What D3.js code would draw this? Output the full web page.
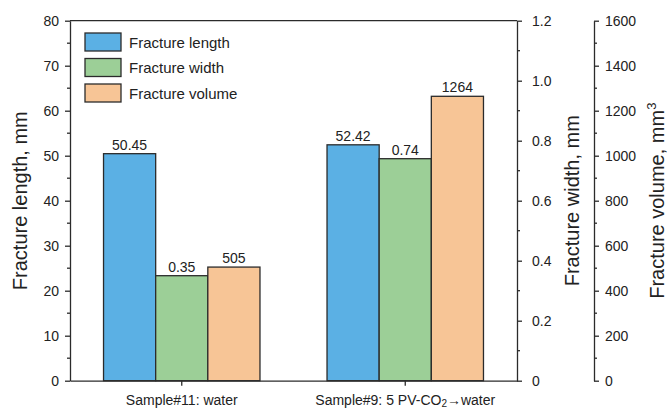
<!DOCTYPE html>
<html>
<head>
<meta charset="utf-8">
<script src="https://cdn.jsdelivr.net/npm/d3@7.9.0/dist/d3.min.js"></script>
<style>
  body { margin: 0; background: #fff; }
  svg { display: block; font-family: "Liberation Sans", Arial, sans-serif; }
  .axis text { fill: #222; font-size: 14px; }
  .axis path, .axis line { stroke: #2b2b2b; stroke-width: 1.3; }
</style>
</head>
<body>
<svg id="chart" width="667" height="408"></svg>
<script>
const categories = ["Sample#11: water", "Sample#9: 5 PV-CO2→water"];
const series = ["Fracture length", "Fracture width", "Fracture volume"];
const lengthValues = [50.45, 52.42];
const widthValues = [0.35, 0.74];
const volumeValues = [505, 1264];
const lengthLabels = ["50.45", "52.42"];
const widthLabels = ["0.35", "0.74"];
const volumeLabels = ["505", "1264"];
const lengthTicks = [0, 10, 20, 30, 40, 50, 60, 70, 80];
const widthTicks = [0, 0.2, 0.4, 0.6, 0.8, 1.0, 1.2];
const volumeTicks = [0, 200, 400, 600, 800, 1000, 1200, 1400, 1600];

const colors = ["#5bb0e4", "#9ccf97", "#f7c596"];
const plotL = 70, plotR = 517, plotT = 20.7, plotB = 380.7, volX = 594;

const svg = d3.select("#chart");

const x0 = d3.scaleBand().domain(categories).range([plotL, plotR])
  .paddingInner(0.3).paddingOuter(0.15);
const x1 = d3.scaleBand().domain(series).range([0, x0.bandwidth()]);

const yLen = d3.scaleLinear().domain([0, 80]).range([plotB, plotT]);
const yWid = d3.scaleLinear().domain([0, 1.2]).range([plotB, plotT]);
const yVol = d3.scaleLinear().domain([0, 1600]).range([plotB, plotT]);

const scales = [yLen, yWid, yVol];
const values = [lengthValues, widthValues, volumeValues];
const labels = [lengthLabels, widthLabels, volumeLabels];

// bars
const bars = [];
series.forEach((s, si) => {
  categories.forEach((c, ci) => {
    bars.push({ s, si, c, v: values[si][ci], lab: labels[si][ci] });
  });
});

svg.append("g").selectAll("rect").data(bars).join("rect")
  .attr("x", d => x0(d.c) + x1(d.s))
  .attr("y", d => scales[d.si](d.v))
  .attr("width", x1.bandwidth())
  .attr("height", d => plotB - scales[d.si](d.v))
  .attr("fill", d => colors[d.si])
  .attr("stroke", "#2b2b2b")
  .attr("stroke-width", 1.3);

svg.append("g").selectAll("text").data(bars).join("text")
  .attr("x", d => x0(d.c) + x1(d.s) + x1.bandwidth() / 2)
  .attr("y", d => scales[d.si](d.v) - 4)
  .attr("text-anchor", "middle")
  .attr("font-size", 14)
  .attr("fill", "#222")
  .text(d => d.lab);

// minor tick helper
function minor(g, scale, step, dir, len) {
  const [a, b] = scale.domain();
  const ticks = d3.range(a + step, b, step * 2).map(v => +v.toFixed(6));
  g.selectAll(".minor").data(ticks).join("line")
    .attr("class", "minor")
    .attr("x1", 0).attr("x2", dir * len)
    .attr("y1", d => scale(d)).attr("y2", d => scale(d))
    .attr("stroke", "#2b2b2b").attr("stroke-width", 1.2);
}

// left axis
const gl = svg.append("g").attr("class", "axis").attr("transform", `translate(${plotL},0)`)
  .call(d3.axisLeft(yLen).tickValues(lengthTicks).tickSize(5).tickSizeOuter(0).tickPadding(6));
minor(gl, yLen, 5, -1, 3);

// right width axis
const gw = svg.append("g").attr("class", "axis").attr("transform", `translate(${plotR},0)`)
  .call(d3.axisRight(yWid).tickValues(widthTicks).tickSize(5).tickSizeOuter(0).tickPadding(10)
    .tickFormat(d => d === 0 ? "0" : d3.format(".1f")(d)));
minor(gw, yWid, 0.1, 1, 3);

// volume axis
const gv = svg.append("g").attr("class", "axis").attr("transform", `translate(${volX},0)`)
  .call(d3.axisRight(yVol).tickValues(volumeTicks).tickSize(5).tickSizeOuter(0).tickPadding(6)
    .tickFormat(d3.format("d")));
minor(gv, yVol, 100, 1, 3);

// bottom axis
const gb = svg.append("g").attr("class", "axis").attr("transform", `translate(0,${plotB})`)
  .call(d3.axisBottom(x0).tickSize(5).tickSizeOuter(0).tickPadding(9).tickFormat(() => ""));
gb.selectAll(".tick text").each(function (d) {
  const t = d3.select(this);
  if (d.includes("CO2")) {
    t.append("tspan").text("Sample#9: 5 PV-CO");
    t.append("tspan").attr("font-size", 10).attr("dy", 2).text("2");
    t.append("tspan").attr("dy", -2).text("→water");
  } else {
    t.text(d);
  }
});

// top frame line
svg.append("line").attr("x1", plotL).attr("x2", plotR).attr("y1", plotT).attr("y2", plotT)
  .attr("stroke", "#2b2b2b").attr("stroke-width", 1.3);

// axis titles
const midY = (plotT + plotB) / 2;
svg.append("text").attr("transform", `translate(27,${midY}) rotate(-90)`)
  .attr("text-anchor", "middle").attr("font-size", 20).attr("fill", "#222")
  .text("Fracture length, mm");
svg.append("text").attr("transform", `translate(579,${midY}) rotate(-90)`)
  .attr("text-anchor", "middle").attr("font-size", 20).attr("fill", "#222")
  .text("Fracture width, mm");
const vt = svg.append("text").attr("transform", `translate(664,${midY}) rotate(-90)`)
  .attr("text-anchor", "middle").attr("font-size", 20).attr("fill", "#222");
vt.append("tspan").text("Fracture volume, mm");
vt.append("tspan").attr("font-size", 13).attr("dy", -8).text("3");

// legend
const lg = svg.append("g").attr("transform", "translate(85,33)");
const rows = lg.selectAll("g").data(series).join("g")
  .attr("transform", (d, i) => `translate(0,${i * 25.5})`);
rows.append("rect").attr("width", 36).attr("height", 18)
  .attr("fill", (d, i) => colors[i]).attr("stroke", "#2b2b2b").attr("stroke-width", 1.3);
rows.append("text").attr("x", 44).attr("y", 14.5).attr("font-size", 15).attr("fill", "#222")
  .text(d => d);
</script>
</body>
</html>
